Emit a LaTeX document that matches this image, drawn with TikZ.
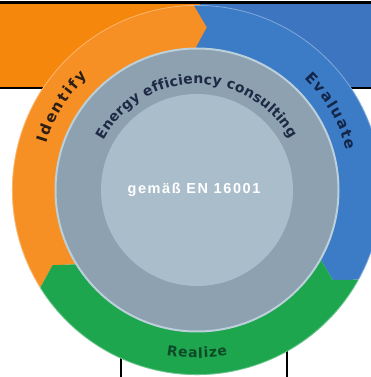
\documentclass[tikz,border=0pt]{standalone}
\usepackage{fontspec}
\setmainfont{DejaVu Sans}
\newfontfamily\arcfont{DejaVu Sans}
\newfontfamily\ctrfont[LetterSpace=11]{Liberation Sans}
\usetikzlibrary{decorations.text}
\definecolor{hdrorange}{HTML}{F5870C}
\definecolor{hdrblue}{HTML}{3E75C0}
\definecolor{ringorange}{HTML}{F79024}
\definecolor{ringblue}{HTML}{3C7BC6}
\definecolor{ringgreen}{HTML}{1EA64F}
\definecolor{greyring}{HTML}{8DA1B0}
\definecolor{innerdisc}{HTML}{AABDCB}
\definecolor{ringedge}{HTML}{BBD0DB}
\definecolor{idcol}{HTML}{2B1E14}
\definecolor{evcol}{HTML}{142648}
\definecolor{recol}{HTML}{0D4A26}
\definecolor{encol}{HTML}{1E2A45}
\tikzset{
  hdrline/.style={draw=black, line width=#1},
  vline/.style={draw=black, line width=1.5pt},
  arclabel/.style={decorate, decoration={text along path, text align={fit to path}, text={#1}}}
}
\begin{document}
\begin{tikzpicture}[x=1pt,y=1pt]
\useasboundingbox (0,0) rectangle (371,377);
\fill[white] (0,0) rectangle (371,377);
% header band
\fill[hdrorange] (0,289) rectangle (200,373.5);
\fill[hdrblue] (200,289) rectangle (371,373.5);
\draw[hdrline=2.5pt] (0,374.5) -- (371,374.5);
\draw[hdrline=1.8pt] (0,289) -- (371,289);
% table lines below ring
\coordinate (vl1) at (121,0);
\coordinate (vl2) at (287,0);
\draw[vline] (vl1) -- ++(0,40);
\draw[vline] (vl2) -- ++(0,40);
\begin{scope}[shift={(197,187)}]
  % orange segment
  \fill[ringorange] (212:185) arc[start angle=212, end angle=91, radius=185]
    -- (86.5:163) -- (91:140) arc[start angle=91, end angle=212, radius=140]
    -- (207.5:163) -- cycle;
  % blue segment
  \fill[ringblue] (91:185) arc[start angle=91, end angle=-29, radius=185]
    -- (-33.5:163) -- (-29:140) arc[start angle=-29, end angle=91, radius=140]
    -- (86.5:163) -- cycle;
  % green segment
  \fill[ringgreen] (-29:185) arc[start angle=-29, end angle=-148, radius=185]
    -- (-152.5:163) -- (-148:140) arc[start angle=-148, end angle=-29, radius=140]
    -- (-33.5:163) -- cycle;
  \draw[white, opacity=0.35, line width=0.8pt] (0,0) circle[radius=184.6];
  % grey ring and inner disc
  \filldraw[fill=greyring, draw=ringedge, line width=2pt] (0,0) circle[radius=141.5];
  \fill[innerdisc] (0,0) circle[radius=96];
  % labels along arcs
  \path[arclabel={|\arcfont\bfseries\fontsize{15}{17}\selectfont\color{idcol}|Identify}]
    (163:157.5) arc[start angle=163, end angle=134, radius=157.5];
  \path[arclabel={|\arcfont\bfseries\fontsize{15}{17}\selectfont\color{evcol}|Evaluate}]
    (46:155) arc[start angle=46, end angle=15, radius=155];
  \path[arclabel={|\arcfont\bfseries\fontsize{14}{16}\selectfont\color{recol}|Realize}]
    (-100.5:168) arc[start angle=-100.5, end angle=-79.5, radius=168];
  \path[arclabel={|\arcfont\bfseries\fontsize{14}{16}\selectfont\color{encol}|Energy efficiency consulting}]
    (152:106) arc[start angle=152, end angle=29, radius=106];
  \node[text=white, font=\ctrfont\bfseries\fontsize{14.5}{16}\selectfont, inner sep=0pt] (center) at (-3,0) {gemäß EN 16001};
\end{scope}
\end{tikzpicture}
\end{document}
